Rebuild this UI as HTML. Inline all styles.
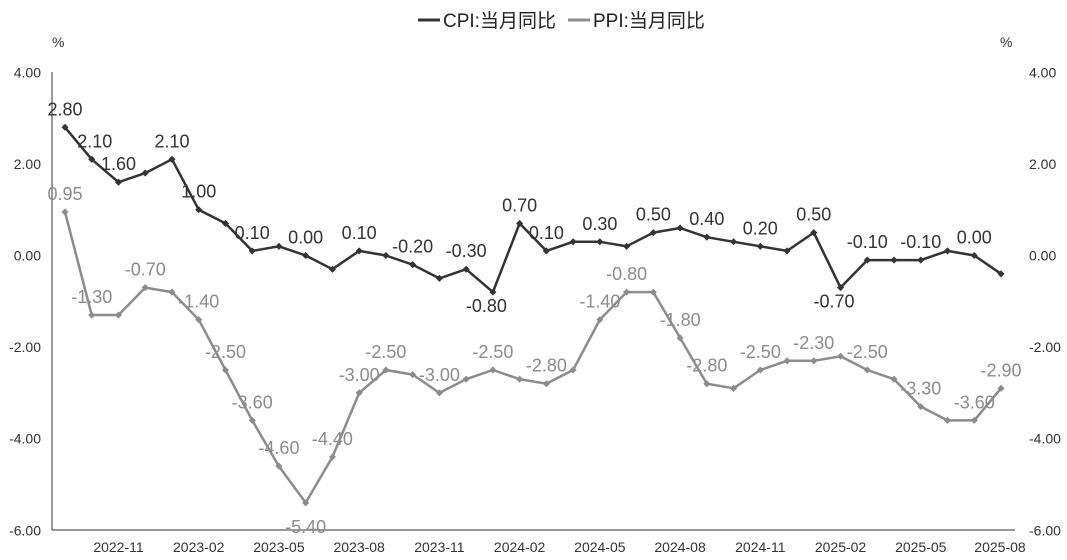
<!DOCTYPE html>
<html><head><meta charset="utf-8">
<style>
html,body{margin:0;padding:0;background:#fff;}
svg{display:block;font-family:"Liberation Sans","Noto Sans CJK SC",sans-serif;}
</style></head>
<body>
<svg id="chart" width="1067" height="560" viewBox="0 0 1067 560" xmlns="http://www.w3.org/2000/svg">
  <g>
    <line x1="418" y1="20" x2="440" y2="20" stroke="#333" stroke-width="3"/>
    <text x="443" y="27" font-size="19" fill="#222">CPI:当月同比</text>
    <line x1="568" y1="20" x2="590" y2="20" stroke="#8c8c8c" stroke-width="3"/>
    <text x="593" y="27" font-size="19" fill="#222">PPI:当月同比</text>
  </g>
  <text x="52" y="47" font-size="14" fill="#333">%</text>
  <text x="1000" y="47" font-size="14" fill="#333">%</text>
  <line x1="52" y1="72" x2="52" y2="530" stroke="#333" stroke-width="1"/>
  <line x1="52" y1="530" x2="1015" y2="530" stroke="#333" stroke-width="1"/>
  <g id="ticks"></g>
  <g id="series"></g>
</svg>
<script>
const months = ["2022-09","2022-10","2022-11","2022-12","2023-01","2023-02","2023-03","2023-04","2023-05","2023-06","2023-07","2023-08","2023-09","2023-10","2023-11","2023-12","2024-01","2024-02","2024-03","2024-04","2024-05","2024-06","2024-07","2024-08","2024-09","2024-10","2024-11","2024-12","2025-01","2025-02","2025-03","2025-04","2025-05","2025-06","2025-07","2025-08"];
const cpiValues = [2.8,2.1,1.6,1.8,2.1,1.0,0.7,0.1,0.2,0.0,-0.3,0.1,0.0,-0.2,-0.5,-0.3,-0.8,0.7,0.1,0.3,0.3,0.2,0.5,0.6,0.4,0.3,0.2,0.1,0.5,-0.7,-0.1,-0.1,-0.1,0.1,0.0,-0.4];
const ppiValues = [0.95,-1.3,-1.3,-0.7,-0.8,-1.4,-2.5,-3.6,-4.6,-5.4,-4.4,-3.0,-2.5,-2.6,-3.0,-2.7,-2.5,-2.7,-2.8,-2.5,-1.4,-0.8,-0.8,-1.8,-2.8,-2.9,-2.5,-2.3,-2.3,-2.2,-2.5,-2.7,-3.3,-3.6,-3.6,-2.9];
const cpiLabelIdx = [0,1,2,4,5,7,9,11,13,15,16,17,18,20,22,24,26,28,29,30,32,34];
const ppiLabelIdx = [0,1,3,5,6,7,8,9,10,11,12,14,16,18,20,21,23,24,26,28,30,32,34,35];
const yTicks = [4,2,0,-2,-4,-6];
const xTickIdx = [2,5,8,11,14,17,20,23,26,29,32,35];

const NS="http://www.w3.org/2000/svg";
const x = i => 65 + i*(1001-65)/(months.length-1);
const y = v => 255.5 - v*45.8;
function mk(tag, attrs, parent, text){
  const e=document.createElementNS(NS,tag);
  for(const k in attrs) e.setAttribute(k,attrs[k]);
  if(text!==undefined) e.textContent=text;
  parent.appendChild(e); return e;
}
const ticks=document.getElementById('ticks');
const series=document.getElementById('series');
yTicks.forEach(v=>{
  const t1=mk('text',{x:41,y:y(v)+5,'font-size':14,'text-anchor':'end',fill:'#333'},ticks,v.toFixed(2));
  
  
  const t2=mk('text',{x:1029,y:y(v)+5,'font-size':14,'text-anchor':'start',fill:'#333'},ticks,v.toFixed(2));
  
  
});
xTickIdx.forEach(i=>{
  const t=mk('text',{x:Math.min(x(i),1000),y:552,'font-size':14,'text-anchor':'middle',fill:'#333'},ticks,months[i]);
  
  
});
function drawSeries(vals, color, labelIdx, name){
  const pts=vals.map((v,i)=>x(i).toFixed(1)+','+y(v).toFixed(1)).join(' ');
  const pl=mk('polyline',{points:pts,fill:'none',stroke:color,'stroke-width':2.5,'stroke-linejoin':'round'},series);
  
  
  vals.forEach((v,i)=>{
    const c=mk('rect',{x:x(i)-2.5,y:y(v)-2.5,width:5,height:5,fill:color,transform:`rotate(45 ${x(i)} ${y(v)})`},series);
    
    
  });
  labelIdx.forEach(i=>{
    let dy=-12, anchor='middle', lx=x(i);
    if(name==='ppi' && i===9){dy=30;}
    if(name==='cpi' && (i===16||i===29)){anchor='end'; lx=x(i)+14; dy=20;}
    if(name==='cpi' && i===1){lx=x(i)+3;}
    const t=mk('text',{x:lx,y:y(vals[i])+dy,'font-size':18,'text-anchor':anchor,fill:color},series,vals[i].toFixed(2));
    
    
  });
}
drawSeries(ppiValues,'#8c8c8c',ppiLabelIdx,'ppi');
drawSeries(cpiValues,'#333333',cpiLabelIdx,'cpi');
</script>
</body></html>
